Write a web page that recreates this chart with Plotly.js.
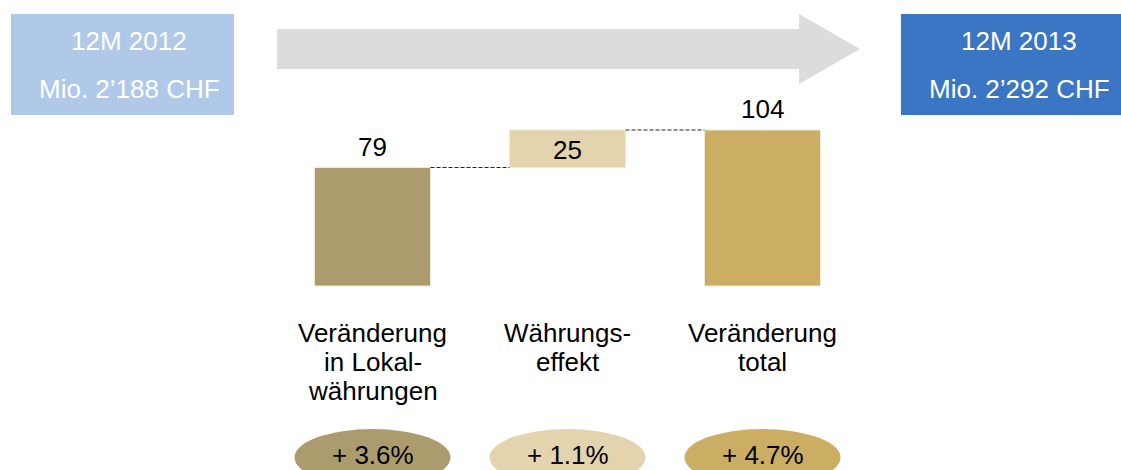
<!DOCTYPE html>
<html>
<head>
<meta charset="utf-8">
<script src="https://cdn.plot.ly/plotly-3.0.1.min.js"></script>
<style>
  html, body { margin: 0; padding: 0; background: #fff; }
  #chart { width: 1121px; height: 470px; }
</style>
</head>
<body>
<div id="chart"></div>
<script>
// Bridge from 12M 2012 to 12M 2013 sales (Mio. CHF)
const categories = ['Veränderung in Lokalwährungen', 'Währungseffekt', 'Veränderung total'];
const categoryLines = [
    ['Veränderung', 'in Lokal-', 'währungen'],
    ['Währungs-', 'effekt'],
    ['Veränderung', 'total']
];
const values = [79, 25, 104];
const bases = [0, 79, 0];
const percents = ['+ 3.6%', '+ 1.1%', '+ 4.7%'];
const barColors = ['#ac9c6d', '#e3d4ae', '#cbad64'];
const startBox = ['12M 2012', 'Mio. 2’188 CHF'];
const endBox = ['12M 2013', 'Mio. 2’292 CHF'];

const W = 1121, H = 470;
const font = 'Liberation Sans, Arial, sans-serif';
const fontSize = 26;

// pixel helpers for the decorations (paper coords, margins are 0)
const px = x => x / W;
const py = y => 1 - y / H;

// axis scales: 195px between bars, 1.5px per Mio., zero line at y=286
const step = 195, firstCenter = 372.5;
const unit = 1.5, zeroPx = 286;
const barWidth = 116 / step;
const xRange = [-firstCenter / step, (W - firstCenter) / step];
const yRange = [-(H - zeroPx) / unit, zeroPx / unit];

const trace = {
    x: categories,
    y: values,
    base: bases,
    type: 'bar',
    width: barWidth,
    marker: { color: barColors, line: { color: '#efe9d8', width: 1 } },
    hoverinfo: 'skip'
};

const shapes = [];
const annotations = [];

// header boxes and arrow
shapes.push({ type: 'rect', xref: 'paper', yref: 'paper', x0: px(11), x1: px(234), y0: py(115), y1: py(14),
    fillcolor: '#b0c9e8', line: { width: 0 }, layer: 'below' });
shapes.push({ type: 'rect', xref: 'paper', yref: 'paper', x0: px(901), x1: px(1121), y0: py(115), y1: py(14),
    fillcolor: '#3b76c4', line: { width: 0 }, layer: 'below' });
shapes.push({
    type: 'path', xref: 'paper', yref: 'paper', fillcolor: '#dcdcdc', line: { width: 0 }, layer: 'below',
    path: `M ${px(277)} ${py(29)} L ${px(799)} ${py(29)} L ${px(799)} ${py(14)} L ${px(860)} ${py(49)} ` +
          `L ${px(799)} ${py(84)} L ${px(799)} ${py(69)} L ${px(277)} ${py(69)} Z`
});

const boxText = (lines, cx) => lines.forEach((t, i) => annotations.push({
    text: t, xref: 'paper', yref: 'paper', x: px(cx), y: py(i === 0 ? 41 : 89),
    xanchor: 'center', yanchor: 'middle', showarrow: false,
    font: { family: font, size: fontSize, color: '#ffffff' }
}));
boxText(startBox, 129);
boxText(endBox, 1019);

values.forEach((v, i) => {
    const top = bases[i] + v;
    const inside = bases[i] > 0;

    // value label
    annotations.push({
        text: String(v), x: i, y: inside ? bases[i] + v / 2 : top,
        xref: 'x', yref: 'y', xanchor: 'center', yanchor: 'middle',
        yshift: inside ? -1 : 21, showarrow: false,
        font: { family: font, size: fontSize, color: '#000' }
    });

    // dashed connector to the next bar
    if (i < values.length - 1) {
        shapes.push({
            type: 'line', xref: 'x', yref: 'y',
            x0: i + barWidth / 2, x1: i + 1 - barWidth / 2, y0: top, y1: top,
            line: { color: '#222', width: 1, dash: '4px,2px' }
        });
    }

    // category label, one annotation per line
    categoryLines[i].forEach((t, j) => annotations.push({
        text: t, x: i, xref: 'x', yref: 'paper', y: py(333 + j * 29),
        xanchor: 'center', yanchor: 'middle', showarrow: false,
        font: { family: font, size: fontSize, color: '#000' }
    }));

    // percent ellipse
    shapes.push({
        type: 'circle', xref: 'x', yref: 'paper',
        x0: i - 78 / step, x1: i + 78 / step, y0: py(486), y1: py(429),
        fillcolor: barColors[i], line: { width: 0 }, layer: 'below'
    });
    annotations.push({
        text: percents[i], x: i, xref: 'x', yref: 'paper', y: py(455),
        xanchor: 'center', yanchor: 'middle', showarrow: false,
        font: { family: font, size: fontSize, color: '#000' }
    });
});

const layout = {
    width: W, height: H,
    margin: { t: 0, r: 0, b: 0, l: 0 },
    paper_bgcolor: '#fff', plot_bgcolor: '#fff',
    showlegend: false,
    xaxis: { range: xRange, visible: false, fixedrange: true },
    yaxis: { range: yRange, visible: false, fixedrange: true },
    shapes: shapes,
    annotations: annotations
};

Plotly.newPlot('chart', [trace], layout, { displayModeBar: false, staticPlot: true });
</script>
</body>
</html>
